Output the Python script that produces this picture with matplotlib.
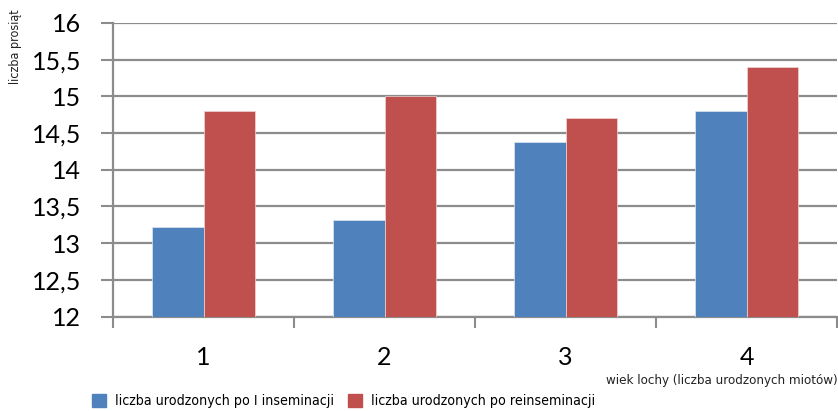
import numpy as np
import matplotlib.pyplot as plt
from matplotlib.patches import Patch

# litter size by sow age (number of litters)
litters = ["1", "2", "3", "4"]
first_insem = [13.22, 13.32, 14.38, 14.80]
reinsem = [14.80, 15.00, 14.70, 15.40]
y_ticks = [12, 12.5, 13, 13.5, 14, 14.5, 15, 15.5, 16]
y_labels = ["12", "12,5", "13", "13,5", "14", "14,5", "15", "15,5", "16"]

blue = "#4F81BD"
red = "#C0504D"
grid_col = "#8C8C8C"
narrow = {"family": "DejaVu Sans", "stretch": "condensed"}

fig = plt.figure(figsize=(8.38, 4.11), dpi=100)
ax = fig.add_axes([113/838, 1 - 316.6/411, 724/838, (316.6 - 23)/411])

x = np.arange(len(litters))
w = 0.285
ax.bar(x - w/2, first_insem, w, color=blue, edgecolor="#dfe6f0", linewidth=0.5, zorder=3)
ax.bar(x + w/2, reinsem, w, color=red, edgecolor="#efd6d5", linewidth=0.5, zorder=3)

ax.set_xlim(-0.5, len(litters) - 0.5)
ax.set_ylim(12, 16)
ax.set_yticks(y_ticks)
ax.set_yticklabels(y_labels, fontsize=18, family="Lato")
ax.set_xticks(x)
ax.set_xticklabels(litters, fontsize=18, family="Lato")
ax.set_xticks(np.arange(-0.5, len(litters)), minor=True)
ax.tick_params(axis="x", which="major", length=0, pad=21)
ax.tick_params(axis="x", which="minor", length=8, width=1.5, color=grid_col)
ax.tick_params(axis="y", length=9, width=1.5, color=grid_col, pad=14)

ax.yaxis.grid(True, color=grid_col, linewidth=1.6, zorder=0)
ax.set_axisbelow(True)
for s in ["top", "right"]:
    ax.spines[s].set_visible(False)
for s in ["left", "bottom"]:
    ax.spines[s].set_color(grid_col)
    ax.spines[s].set_linewidth(1.6)

fig.text(0.011, 1 - 9/411, "liczba prosiąt", rotation=90, ha="left", va="top",
         fontsize=9, color="#222222", **narrow)
fig.text(0.999, 1 - 380/411, "wiek lochy (liczba urodzonych miotów)", ha="right", va="center",
         fontsize=9.5, color="#222222", **narrow)

handles = [Patch(color=blue, label="liczba urodzonych po I inseminacji"),
           Patch(color=red, label="liczba urodzonych po reinseminacji")]
fig.legend(handles=handles, loc="lower left", bbox_to_anchor=(0.095, -0.024), ncol=2,
           frameon=False, handlelength=0.95, handleheight=1.0, handletextpad=0.65,
           columnspacing=1.0, prop={"family": "DejaVu Sans", "stretch": "condensed", "size": 10.2})

fig.savefig("out.png", dpi=100)
